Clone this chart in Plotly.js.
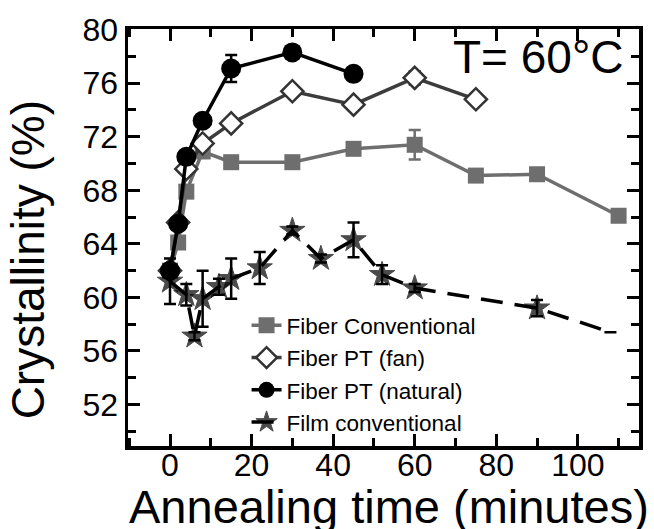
<!DOCTYPE html>
<html>
<head>
<meta charset="utf-8">
<script src="https://cdn.plot.ly/plotly-3.0.1.min.js"></script>
<style>html,body{margin:0;padding:0;background:#fff;}#chart{width:654px;height:529px;}</style>
</head>
<body>
<div id="chart"></div>
<script>
// Fiber Conventional
const timeConv = [0, 2, 4, 8, 15, 30, 45, 60, 75, 90, 110];
const cryConv  = [62, 64.1, 67.9, 70.9, 70.1, 70.1, 71.1, 71.4, 69.1, 69.2, 66.1];
const errConv  = [0.3, 0.3, 0.3, 0.3, 0.3, 0.3, 0.3, 1.1, 0.3, 0.4, 0.3];
// Fiber PT (fan)
const timeFan = [0, 2, 4, 8, 15, 30, 45, 60, 75];
const cryFan  = [62, 65.6, 69.6, 71.5, 73.0, 75.4, 74.4, 76.4, 74.8];
const errFan  = [0.3, 0.3, 0.3, 0.3, 0.3, 0.3, 0.3, 0.5, 0.3];
// Fiber PT (natural)
const timeNat = [0, 2, 4, 8, 15, 30, 45];
const cryNat  = [62, 65.5, 70.5, 73.2, 77.1, 78.3, 76.7];
const errNat  = [0.3, 0.3, 0.3, 0.3, 1.0, 0.3, 0.3];
// Film conventional
const timeFilm = [0, 4, 6, 8, 12, 15, 22, 30, 37, 45, 52, 60, 90, 108];
const cryFilm  = [61.2, 60.2, 57.1, 59.9, 60.8, 61.4, 62.2, 65.0, 62.9, 64.3, 61.7, 60.7, 59.2, 57.4];
const errFilm  = [1.7, 0.8, 0.3, 2.1, 0.6, 1.5, 1.2, 0.3, 0.3, 1.3, 0.7, 0.3, 0.6, 0];

const seriesNames = ['Fiber Conventional', 'Fiber PT (fan)', 'Fiber PT (natural)', 'Film conventional'];
const xTickVals = [0, 20, 40, 60, 80, 100];
const yTickVals = [52, 56, 60, 64, 68, 72, 76, 80];

const FONT = 'Liberation Sans, Arial, sans-serif';
const filmSizes = timeFilm.map((t, i) => i === timeFilm.length - 1 ? 0 : 19);

const traces = [
  {
    x: timeConv, y: cryConv, name: seriesNames[0], type: 'scatter', mode: 'lines+markers',
    line: {color: '#6e6e6e', width: 3.5},
    marker: {symbol: 'square', size: 16, color: '#6e6e6e'},
    error_y: {type: 'data', array: errConv, color: '#6e6e6e', thickness: 2.5, width: 6}
  },
  {
    x: timeFan, y: cryFan, name: seriesNames[1], type: 'scatter', mode: 'lines+markers',
    line: {color: '#3c3c3c', width: 3.5},
    marker: {symbol: 'diamond', size: 17, color: '#ffffff', line: {color: '#333333', width: 2.5}},
    error_y: {type: 'data', array: errFan, color: '#333333', thickness: 2.5, width: 6}
  },
  {
    x: timeNat, y: cryNat, name: seriesNames[2], type: 'scatter', mode: 'lines+markers',
    line: {color: '#000000', width: 3.5},
    marker: {symbol: 'circle', size: 20, color: '#000000'},
    error_y: {type: 'data', array: errNat, color: '#000000', thickness: 2.5, width: 6}
  },
  {
    x: timeFilm, y: cryFilm, name: seriesNames[3], type: 'scatter', mode: 'lines+markers',
    line: {color: '#000000', width: 3.5, dash: '22px,12px'},
    marker: {symbol: 'star', size: filmSizes, color: '#000000', line: {color: '#000000', width: 1}},
    error_y: {type: 'data', array: errFilm, color: '#000000', thickness: 2.5, width: 6}
  }
];

const axisCommon = {
  showline: true, linecolor: '#000', linewidth: 3.5, mirror: 'allticks',
  ticks: 'inside', ticklen: 12, tickwidth: 3, tickcolor: '#000',
  showgrid: false, zeroline: false,
  tickfont: {family: FONT, size: 32, color: '#000'}
};

const layout = {
  width: 654, height: 529,
  margin: {l: 128, r: 15, t: 29, b: 83},
  paper_bgcolor: '#fff', plot_bgcolor: '#fff',
  showlegend: true,
  legend: {
    x: 0.232, y: 0.34, xanchor: 'left', yanchor: 'top',
    bgcolor: 'rgba(0,0,0,0)', borderwidth: 0,
    font: {family: FONT, size: 22.5, color: '#000'},
    tracegroupgap: 0
  },
  xaxis: Object.assign({}, axisCommon, {
    range: [-10.3, 115], tickvals: xTickVals, ticktext: xTickVals.map(String),
    ticklabelstandoff: -12,
    minor: {dtick: 10, tick0: 0, ticks: 'inside', ticklen: 8, tickwidth: 3, tickcolor: '#000'}
  }),
  yaxis: Object.assign({}, axisCommon, {
    range: [48.9, 80.05], tickvals: yTickVals, ticktext: yTickVals.map(String),
    minor: {dtick: 2, tick0: 0, ticks: 'inside', ticklen: 8, tickwidth: 3, tickcolor: '#000'}
  }),
  annotations: [
    {text: 'T= 60°C', xref: 'paper', yref: 'paper', x: 0.804, y: 0.933,
     xanchor: 'center', yanchor: 'middle', showarrow: false,
     font: {family: FONT, size: 46, color: '#000'}},
    {text: 'Crystallinity (%)', xref: 'paper', yref: 'paper', x: -0.195, y: 0.446,
     xanchor: 'center', yanchor: 'middle', textangle: -90, showarrow: false,
     font: {family: FONT, size: 46, color: '#000'}},
    {text: 'Annealing time (minutes)', xref: 'paper', yref: 'paper', x: 0.51, y: -0.146,
     xanchor: 'center', yanchor: 'middle', showarrow: false,
     font: {family: FONT, size: 47, color: '#000'}}
  ]
};

Plotly.newPlot('chart', traces, layout, {displayModeBar: false, staticPlot: true});
</script>
</body>
</html>
